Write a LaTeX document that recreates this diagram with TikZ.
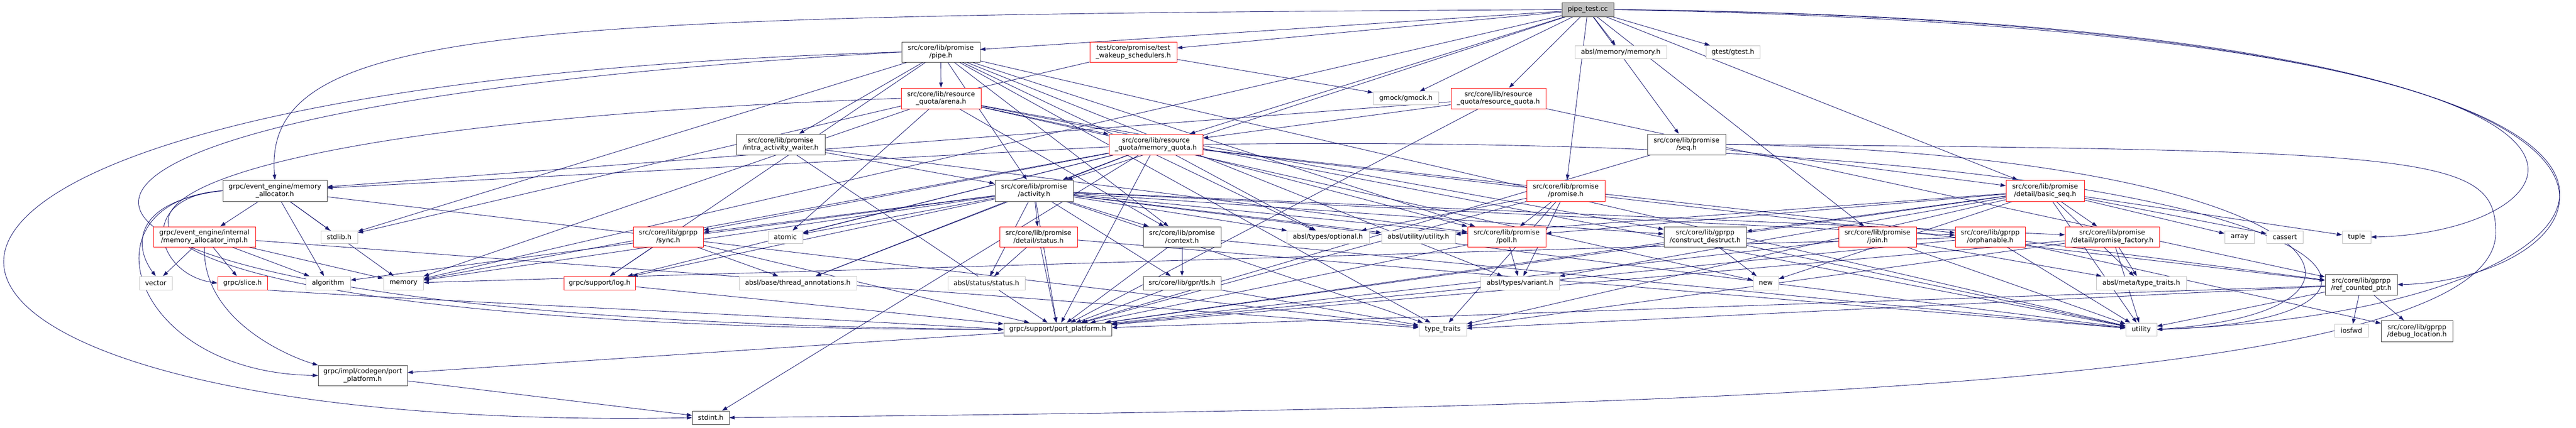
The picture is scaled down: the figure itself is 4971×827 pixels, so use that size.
\documentclass[tikz,border=0pt]{standalone}
\usepackage{fontspec}
\setmainfont{DejaVu Sans}
\usetikzlibrary{arrows.meta, backgrounds}

\definecolor{edgeblue}{HTML}{191970}
\definecolor{boxgray}{HTML}{BFBFBF}
\definecolor{boxred}{HTML}{FF0000}
\definecolor{boxblack}{HTML}{404040}

\tikzset{
    hdr/.style={draw, fill=white, line width=1pt, inner sep=0pt, align=center,
        font=\fontsize{12.9}{14.5}\selectfont},
    grayhdr/.style={hdr, draw=boxgray},
    redhdr/.style={hdr, draw=boxred},
    blackhdr/.style={hdr, draw=boxblack},
    wh/.style 2 args={minimum width=#1pt, minimum height=#2pt},
    dep/.style={draw=edgeblue, line width=0.9pt, -{Triangle[length=10pt,width=7pt]}}
}

\begin{document}
\begin{tikzpicture}[x=1pt, y=-1pt]
    \useasboundingbox (0,0) rectangle (4971,827);

    % Archivo de prueba arriba
    \node[blackhdr, fill=boxgray, wh={100}{27}] (test) at (3064,18.5) {pipe\_test.cc};

    % Fila 1 y 2
    \node[blackhdr, wh={151}{39}] (pipe) at (1815.5,100.5) {src/core/lib/promise\\/pipe.h};
    \node[redhdr, wh={168}{39}] (wake) at (2187,100.5) {test/core/promise/test\\\_wakeup\_schedulers.h};
    \node[grayhdr, wh={177}{25}] (amem) at (3127.5,100.5) {absl/memory/memory.h};
    \node[grayhdr, wh={104}{25}] (gtest) at (3344,100.5) {gtest/gtest.h};
    \node[redhdr, wh={154}{40}] (arena) at (1816,190) {src/core/lib/resource\\\_quota/arena.h};
    \node[grayhdr, wh={126}{25}] (gmock) at (2713,189.5) {gmock/gmock.h};
    \node[redhdr, wh={183}{40}] (rquota) at (2891.5,190) {src/core/lib/resource\\\_quota/resource\_quota.h};

    % Fila 3 y 4
    \node[blackhdr, wh={171}{40}] (waiter) at (1506.5,279) {src/core/lib/promise\\/intra\_activity\_waiter.h};
    \node[redhdr, wh={181}{40}] (mquota) at (2230.5,279) {src/core/lib/resource\\\_quota/memory\_quota.h};
    \node[blackhdr, wh={151}{40}] (seq) at (3254.5,279) {src/core/lib/promise\\/seq.h};
    \node[blackhdr, wh={201}{41}] (alloc) at (530.5,368.5) {grpc/event\_engine/memory\\\_allocator.h};
    \node[blackhdr, wh={151}{41}] (activity) at (1995.5,368.5) {src/core/lib/promise\\/activity.h};
    \node[redhdr, wh={151}{41}] (promise) at (3021.5,368.5) {src/core/lib/promise\\/promise.h};
    \node[redhdr, wh={151}{41}] (bseq) at (3946.5,368.5) {src/core/lib/promise\\/detail/basic\_seq.h};

    % Fila 5
    \node[redhdr, wh={197}{39}] (impl) at (394.5,457.5) {grpc/event\_engine/internal\\/memory\_allocator\_impl.h};
    \node[grayhdr, wh={71}{24}] (stdlib) at (654.5,458) {stdlib.h};
    \node[redhdr, wh={135}{39}] (sync) at (1289.5,457.5) {src/core/lib/gprpp\\/sync.h};
    \node[grayhdr, wh={67}{24}] (atomic) at (1515.5,458) {atomic};
    \node[redhdr, wh={150}{39}] (dstatus) at (2004,457.5) {src/core/lib/promise\\/detail/status.h};
    \node[blackhdr, wh={150}{39}] (context) at (2281,457.5) {src/core/lib/promise\\/context.h};
    \node[grayhdr, wh={159}{24}] (optional) at (2562.5,458) {absl/types/optional.h};
    \node[grayhdr, wh={142}{24}] (autil) at (2737,458) {absl/utility/utility.h};
    \node[redhdr, wh={151}{39}] (poll) at (2907.5,457.5) {src/core/lib/promise\\/poll.h};
    \node[blackhdr, wh={159}{39}] (cdestr) at (3290.5,457.5) {src/core/lib/gprpp\\/construct\_destruct.h};
    \node[redhdr, wh={150}{39}] (join) at (3623,457.5) {src/core/lib/promise\\/join.h};
    \node[redhdr, wh={135}{39}] (orphan) at (3840.5,457.5) {src/core/lib/gprpp\\/orphanable.h};
    \node[redhdr, wh={182}{39}] (pfact) at (4076,457.5) {src/core/lib/promise\\/detail/promise\_factory.h};
    \node[grayhdr, wh={57}{24}] (array) at (4321.5,458) {array};
    \node[grayhdr, wh={70}{24}] (cassert) at (4409,458) {cassert};
    \node[grayhdr, wh={55}{24}] (tuple) at (4547.5,458) {tuple};

    % Fila 6
    \node[grayhdr, wh={63}{26}] (vector) at (300.5,547) {vector};
    \node[redhdr, wh={96}{26}] (slice) at (468,547) {grpc/slice.h};
    \node[grayhdr, wh={86}{26}] (algorithm) at (633,547) {algorithm};
    \node[grayhdr, wh={77}{26}] (memory) at (778.5,547) {memory};
    \node[redhdr, wh={138}{26}] (log) at (1157,547) {grpc/support/log.h};
    \node[grayhdr, wh={227}{26}] (thread) at (1539.5,547) {absl/base/thread\_annotations.h};
    \node[grayhdr, wh={149}{26}] (astatus) at (1903.5,547) {absl/status/status.h};
    \node[blackhdr, wh={150}{26}] (tls) at (2281,547) {src/core/lib/gpr/tls.h};
    \node[grayhdr, wh={152}{26}] (variant) at (2933,547) {absl/types/variant.h};
    \node[grayhdr, wh={49}{26}] (new) at (3407.5,547) {new};
    \node[grayhdr, wh={174}{26}] (meta) at (4132,547) {absl/meta/type\_traits.h};
    \node[blackhdr, wh={139}{40}] (rcptr) at (4556.5,550) {src/core/lib/gprpp\\/ref\_counted\_ptr.h};

    % Filas de abajo
    \node[blackhdr, wh={208}{25}] (sport) at (2041,636.5) {grpc/support/port\_platform.h};
    \node[grayhdr, wh={92}{25}] (ttraits) at (2784,636.5) {type\_traits};
    \node[grayhdr, wh={60}{25}] (utility) at (4132,636.5) {utility};
    \node[grayhdr, wh={65}{25}] (iosfwd) at (4537.5,639) {iosfwd};
    \node[blackhdr, wh={138}{41}] (dloc) at (4664,640) {src/core/lib/gprpp\\/debug\_location.h};
    \node[blackhdr, wh={172}{39}] (ipp) at (700,725.5) {grpc/impl/codegen/port\\\_platform.h};
    \node[blackhdr, wh={71}{26}] (stdint) at (1371.5,807) {stdint.h};

    \begin{scope}[on background layer]
    % Dependencias rectas
    \foreach \src/\dst in {test/pipe, test/wake, test/amem, test/gtest, test/rquota, test/mquota,
        test/seq, test/promise, test/activity, test/join, test/bseq, test/memory, test/gmock,
        pipe/arena, pipe/waiter, pipe/activity, pipe/context, pipe/poll, pipe/log, pipe/optional,
        pipe/variant, pipe/utility, pipe/ttraits, pipe/stdlib,
        wake/gmock, wake/stdlib,
        arena/mquota, arena/context, arena/atomic, arena/memory, arena/utility, arena/new, arena/cdestr,
        waiter/activity, waiter/poll, waiter/sport,
        rquota/mquota, rquota/rcptr, rquota/alloc, rquota/sport,
        mquota/activity, mquota/alloc, mquota/poll, mquota/orphan, mquota/rcptr, mquota/sync,
        mquota/thread, mquota/optional, mquota/log, mquota/memory, mquota/atomic, mquota/sport, mquota/stdint,
        seq/bseq, seq/sport,
        alloc/impl, alloc/algorithm, alloc/memory, alloc/stdlib, alloc/ttraits,
        activity/dstatus, activity/context, activity/tls, activity/cdestr, activity/orphan, activity/pfact,
        activity/poll, activity/sync, activity/thread, activity/astatus, activity/optional, activity/autil,
        activity/log, activity/sport, activity/algorithm, activity/atomic, activity/memory,
        activity/ttraits, activity/utility,
        promise/poll, promise/optional, promise/variant, promise/ttraits, promise/sport,
        bseq/pfact, bseq/cdestr, bseq/poll, bseq/variant, bseq/meta, bseq/autil, bseq/array,
        bseq/cassert, bseq/tuple, bseq/new, bseq/utility, bseq/sport, bseq/ttraits,
        impl/vector, impl/slice, impl/algorithm, impl/memory, impl/ttraits,
        sync/log, sync/thread, sync/sport,
        dstatus/astatus, dstatus/sport, dstatus/utility,
        context/tls, context/sport, context/utility,
        poll/variant, poll/sport,
        cdestr/new, cdestr/sport, cdestr/utility,
        join/meta, join/sport, join/utility,
        orphan/dloc, orphan/rcptr, orphan/memory, orphan/sport, orphan/utility,
        pfact/meta, pfact/utility, pfact/sport, pfact/ttraits,
        log/sport, tls/sport, tls/ttraits,
        rcptr/iosfwd, rcptr/dloc, rcptr/sport, rcptr/ttraits, rcptr/utility,
        sport/ipp, ipp/stdint} {
        \draw[dep] (\src) -- (\dst);
    }

    % Dependencias que dan la vuelta
    \draw[dep] (test.west) .. controls (1000,30) and (505,45) .. (alloc.north);
    \draw[dep] (test.east) .. controls (5400,40) and (5050,540) .. (rcptr.east);
    \draw[dep] (test.east) .. controls (5500,45) and (5200,600) .. (utility.east);
    \draw[dep] (test.east) .. controls (5300,60) and (5000,450) .. (tuple.east);
    \draw[dep] (pipe.west) .. controls (-600,170) and (-400,840) .. (stdint.west);
    \draw[dep] (pipe.west) .. controls (-350,220) and (-150,620) .. (sport.west);
    \draw[dep] (arena.west) .. controls (-250,260) and (-100,640) .. (sport.west);
    \draw[dep] (seq.east) .. controls (4700,290) and (4816,300) .. (4816,450)
        .. controls (4816,770) and (3000,790) .. (stdint.east);
    \draw[dep] (seq.east) .. controls (4500,300) and (4700,600) .. (utility.east);
    \draw[dep] (mquota.east) .. controls (4600,250) and (4800,620) .. (utility.east);
    \draw[dep] (alloc.west) .. controls (250,390) and (260,480) .. (vector.north);
    \draw[dep] (alloc.west) .. controls (260,380) and (300,530) .. (slice.west);
    \draw[dep] (alloc.west) .. controls (150,390) and (250,720) .. (ipp.west);
    \draw[dep] (impl.south) .. controls (390,620) and (560,690) .. (ipp.north west);
    \draw[dep] (slice.south east) .. controls (800,580) and (1500,610) .. (sport.west);
    \end{scope}
\end{tikzpicture}
\end{document}
